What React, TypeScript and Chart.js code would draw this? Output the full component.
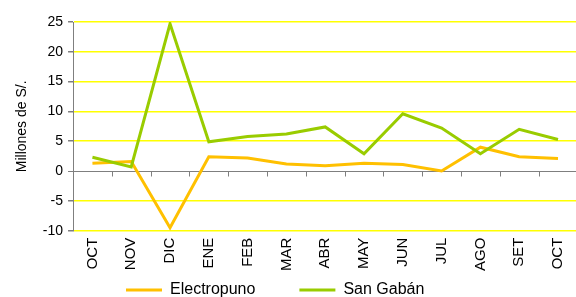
import React, { useEffect, useRef } from 'react';
import { Chart, registerables } from 'chart.js';

Chart.register(...registerables);

const categories = ['OCT', 'NOV', 'DIC', 'ENE', 'FEB', 'MAR', 'ABR', 'MAY', 'JUN', 'JUL', 'AGO', 'SET', 'OCT'];
const electropuno = [1.3, 1.6, -9.5, 2.4, 2.2, 1.2, 0.9, 1.3, 1.1, 0.0, 4.0, 2.4, 2.1];
const sanGaban = [2.3, 0.7, 24.7, 4.9, 5.8, 6.2, 7.4, 2.9, 9.6, 7.2, 2.9, 7.0, 5.3];
const yTicks = [-10, -5, 0, 5, 10, 15, 20, 25];
const seriesNames = ['Electropuno', 'San Gabán'];

const FONT = "'Liberation Sans', Arial, Helvetica, sans-serif";
const AXIS_GRAY = '#7F7F7F';
const LEGEND_X = 126;
const LEGEND_CY = 290;
const LEGEND_PAD = 44;
const LEGEND_FONT = 16;

// Moves the legend row to where it sits in the reference (a space of 2px is kept for it in the layout).
const legendPlacer = {
  id: 'legendPlacer',
  afterLayout(chart: any) {
    const lg = chart.legend;
    if (!lg) return;
    lg.left = LEGEND_X - LEGEND_PAD;
    lg.right = chart.width;
    lg.top = LEGEND_CY - LEGEND_PAD - LEGEND_FONT / 2;
    lg.bottom = lg.top + 2 * LEGEND_PAD + LEGEND_FONT + 10;
  },
};

// Small tick marks along the zero line, at the category boundaries of the x scale.
const zeroAxisTicks = {
  id: 'zeroAxisTicks',
  beforeDatasetsDraw(chart: any) {
    const xs = chart.scales.x;
    const ys = chart.scales.y;
    const ctx = chart.ctx;
    const y0 = Math.round(ys.getPixelForValue(0)) + 0.5;
    ctx.save();
    ctx.strokeStyle = AXIS_GRAY;
    ctx.lineWidth = 1;
    ctx.beginPath();
    for (let i = 0; i <= categories.length; i++) {
      const x = Math.round(xs.getPixelForValue(i - 0.5)) + 0.5;
      ctx.moveTo(x, y0);
      ctx.lineTo(x, y0 + 5);
    }
    ctx.stroke();
    ctx.restore();
  },
};

export default function App() {
  const ref = useRef<HTMLCanvasElement | null>(null);

  useEffect(() => {
    if (!ref.current) return;
    Chart.defaults.font.family = FONT;
    const chart = new Chart(ref.current, {
      type: 'line',
      data: {
        labels: categories,
        datasets: [
          {
            label: seriesNames[0],
            data: electropuno,
            borderColor: '#FFC000',
            backgroundColor: '#FFC000',
            borderWidth: 3,
            pointRadius: 0,
            tension: 0,
            order: 1,
          },
          {
            label: seriesNames[1],
            data: sanGaban,
            borderColor: '#99CC00',
            backgroundColor: '#99CC00',
            borderWidth: 3,
            pointRadius: 0,
            tension: 0,
            order: 0,
          },
        ],
      },
      options: {
        responsive: false,
        animation: false,
        devicePixelRatio: 1,
        layout: { padding: { left: 10, top: 22, right: 0, bottom: 17 } },
        plugins: {
          tooltip: { enabled: false },
          legend: {
            position: 'bottom',
            align: 'start',
            maxHeight: 2,
            labels: {
              usePointStyle: true,
              pointStyle: 'line',
              pointStyleWidth: 36,
              padding: LEGEND_PAD,
              color: '#000',
              font: { size: LEGEND_FONT, family: FONT },
              sort: (a: any, b: any) => a.datasetIndex - b.datasetIndex,
            },
          },
        },
        scales: {
          x: {
            type: 'category',
            offset: true,
            grid: { display: false, drawTicks: false, offset: true },
            border: { display: false },
            ticks: {
              autoSkip: false,
              minRotation: 90,
              maxRotation: 90,
              padding: 7,
              color: '#000',
              font: { size: 15, family: FONT },
            },
          },
          y: {
            min: yTicks[0],
            max: yTicks[yTicks.length - 1],
            afterBuildTicks: (axis: any) => {
              axis.ticks = yTicks.map((v) => ({ value: v }));
            },
            ticks: {
              stepSize: 5,
              padding: 5,
              color: '#000',
              font: { size: 14, family: FONT },
            },
            grid: {
              color: (c: any) => (c.tick && c.tick.value === 0 ? AXIS_GRAY : '#FFFF00'),
              lineWidth: (c: any) => (c.tick && c.tick.value === 0 ? 1 : 1.5),
              tickColor: AXIS_GRAY,
              tickLength: 5,
            },
            border: { color: AXIS_GRAY, width: 1 },
            title: {
              display: true,
              text: 'Millones de S/.',
              color: '#000',
              font: { size: 14, family: FONT },
              padding: { top: 4, bottom: 7 },
            },
          },
        },
      },
      plugins: [legendPlacer, zeroAxisTicks],
    } as any);
    return () => chart.destroy();
  }, []);

  return (
    <div
      style={{
        position: 'fixed',
        left: 0,
        top: 0,
        width: 576,
        height: 297,
        overflow: 'hidden',
        background: '#fff',
      }}
    >
      <canvas ref={ref} width={583} height={297} style={{ width: 583, height: 297, display: 'block' }} />
    </div>
  );
}
